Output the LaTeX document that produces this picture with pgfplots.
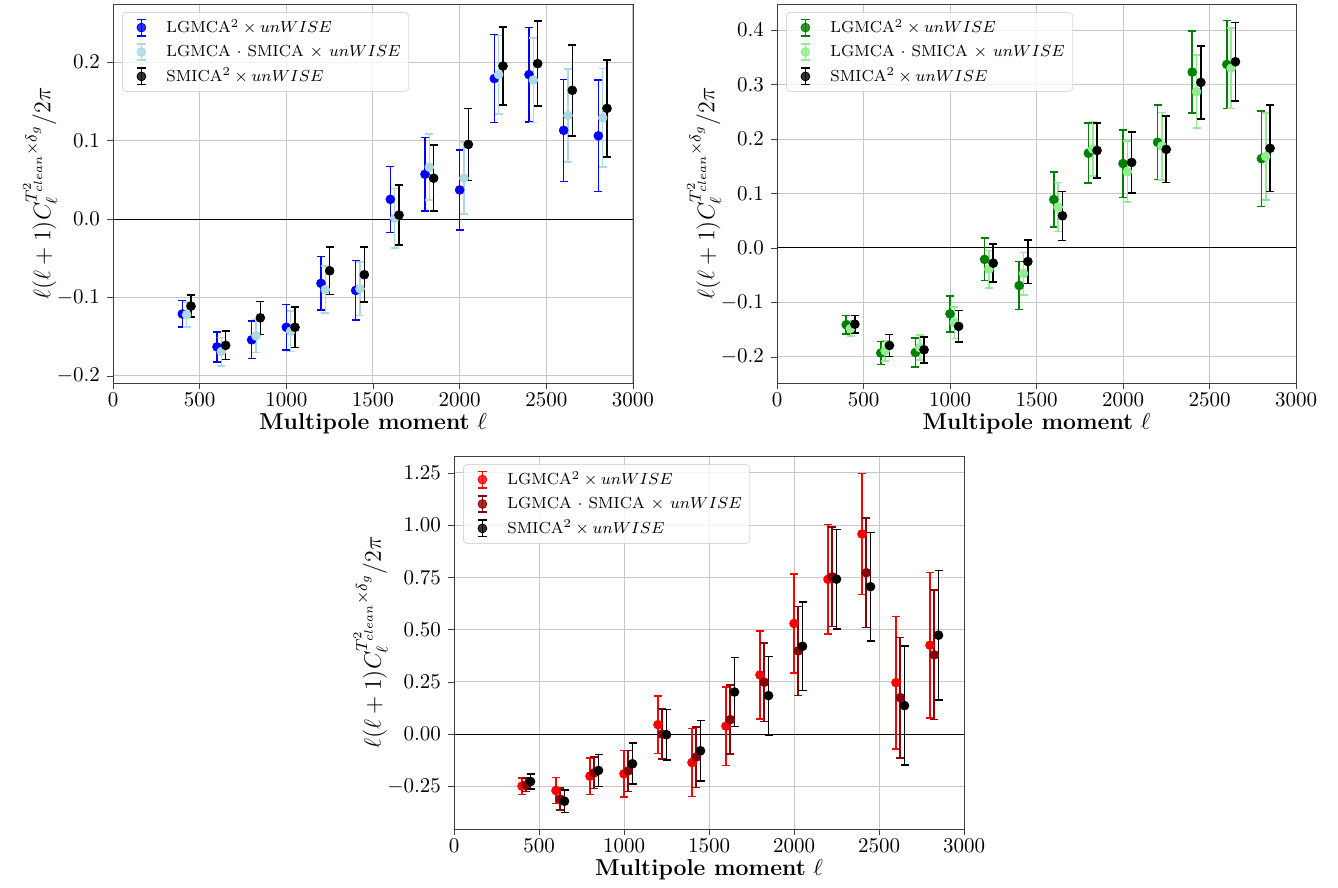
\RequirePackage{fix-cm}
\documentclass[border=0pt]{standalone}
\usepackage{amsmath}
\usepackage{pgfplots}
\usepackage{pgfplotstable}
\pgfplotsset{compat=1.18}

\definecolor{lblue}{HTML}{ADD8E6}
\definecolor{lgreen}{HTML}{90EE90}
\definecolor{dgreen}{HTML}{008000}
\definecolor{dred}{HTML}{8B0000}

\newcommand{\legA}{LGMCA$^2\times unWISE$}
\newcommand{\legB}{LGMCA\hspace{3pt}$\cdot$\hspace{3pt}SMICA\hspace{3pt}$\times$\hspace{3pt}$unWISE$}
\newcommand{\legC}{SMICA$^2\times unWISE$}

\pgfplotsset{
  panel/.style={
    scale only axis,
    xmin=0, xmax=3000, xtick={0,500,...,3000},
    grid=major, major grid style={black!22, line width=0.5pt},
    axis line style={black!75}, tick style={black!75},
    tick align=outside, tick pos=left, major tick length=3pt,
    scaled y ticks=false,
    xticklabel style={/pgf/number format/set thousands separator={}, yshift=1.5pt},
    ticklabel style={font=\fontsize{10.5}{12}\selectfont},
    xlabel={\textbf{Multipole moment} $\ell$},
    ylabel={$\ell(\ell+1)C_\ell^{T^2_{clean}\times\delta_g}/2\pi$},
    xlabel style={font=\fontsize{11.5}{13}\selectfont, yshift=3.5pt},
    ylabel style={font=\fontsize{12}{14}\selectfont, yshift=-7pt},
    legend cell align=left,
    legend style={at={(0,1)}, anchor=north west, xshift=4.5pt, yshift=-4pt,
      draw=black!15, rounded corners=2pt, fill=white, fill opacity=0.8,
      text opacity=1, font=\fontsize{8}{9.5}\selectfont,
      nodes={inner xsep=2pt, inner ysep=1pt},
      row sep=2.5pt, inner xsep=2pt, inner ysep=2.5pt},
  },
  eb/.style={
    only marks, mark=*, mark size=2.2pt, color=#1,
    mark options={fill=#1, draw=#1},
    legend image code/.code={
      \draw[#1, line width=0.8pt] (7.5pt,-4.1pt)--(7.5pt,4.1pt)
        (5.3pt,-4.1pt)--(9.7pt,-4.1pt) (5.3pt,4.1pt)--(9.7pt,4.1pt);
      \fill[#1] (7.5pt,0pt) circle (2.2pt);
      \path[draw=none, fill=none] (0pt,0pt) -- (18pt,0pt);
    },
    error bars/.cd, y dir=both, y explicit,
    error bar style={line width=0.8pt, #1},
    error mark options={rotate=90, #1, line width=0.8pt, mark size=2pt},
  },
}

% panel 1 (blue)
\pgfplotstableread{
x y e
400 -0.121 0.017
600 -0.163 0.019
800 -0.154 0.024
1000 -0.138 0.029
1200 -0.082 0.034
1400 -0.091 0.038
1600 0.025 0.042
1800 0.057 0.047
2000 0.037 0.051
2200 0.179 0.056
2400 0.184 0.060
2600 0.113 0.065
2800 0.106 0.071
}\blueA
\pgfplotstableread{
x y e
425 -0.122 0.016
625 -0.169 0.018
825 -0.149 0.021
1025 -0.143 0.026
1225 -0.090 0.030
1425 -0.089 0.034
1625 0.001 0.038
1825 0.066 0.042
2025 0.052 0.046
2225 0.184 0.050
2425 0.177 0.054
2625 0.132 0.059
2825 0.129 0.063
}\blueB
\pgfplotstableread{
x y e
450 -0.111 0.014
650 -0.161 0.018
850 -0.126 0.021
1050 -0.138 0.026
1250 -0.066 0.030
1450 -0.071 0.035
1650 0.005 0.038
1850 0.052 0.042
2050 0.095 0.046
2250 0.195 0.050
2450 0.198 0.054
2650 0.164 0.058
2850 0.141 0.062
}\blueC

% panel 2 (green)
\pgfplotstableread{
x y e
400 -0.141 0.017
600 -0.193 0.021
800 -0.192 0.027
1000 -0.121 0.033
1200 -0.021 0.039
1400 -0.069 0.044
1600 0.089 0.050
1800 0.174 0.055
2000 0.155 0.062
2200 0.194 0.068
2400 0.323 0.075
2600 0.337 0.081
2800 0.164 0.088
}\greenA
\pgfplotstableread{
x y e
425 -0.148 0.014
625 -0.189 0.019
825 -0.183 0.023
1025 -0.137 0.029
1225 -0.039 0.034
1425 -0.047 0.039
1625 0.075 0.045
1825 0.182 0.050
2025 0.140 0.056
2225 0.187 0.062
2425 0.287 0.067
2625 0.330 0.074
2825 0.168 0.080
}\greenB
\pgfplotstableread{
x y e
450 -0.140 0.016
650 -0.179 0.020
850 -0.187 0.024
1050 -0.144 0.029
1250 -0.028 0.035
1450 -0.025 0.040
1650 0.059 0.045
1850 0.179 0.050
2050 0.157 0.056
2250 0.181 0.061
2450 0.304 0.067
2650 0.342 0.072
2850 0.183 0.079
}\greenC

% panel 3 (red)
\pgfplotstableread{
x y e
400 -0.249 0.040
600 -0.270 0.062
800 -0.201 0.088
1000 -0.190 0.111
1200 0.045 0.137
1400 -0.136 0.162
1600 0.038 0.188
1800 0.283 0.210
2000 0.529 0.236
2200 0.740 0.262
2400 0.957 0.290
2600 0.246 0.317
2800 0.425 0.347
}\redA
\pgfplotstableread{
x y e
425 -0.243 0.032
625 -0.311 0.053
825 -0.185 0.076
1025 -0.176 0.098
1225 0.000 0.120
1425 -0.110 0.145
1625 0.069 0.165
1825 0.248 0.188
2025 0.398 0.213
2225 0.752 0.238
2425 0.772 0.262
2625 0.174 0.287
2825 0.379 0.310
}\redB
\pgfplotstableread{
x y e
450 -0.227 0.037
650 -0.321 0.054
850 -0.174 0.076
1050 -0.142 0.098
1250 -0.003 0.120
1450 -0.080 0.145
1650 0.201 0.165
1850 0.184 0.188
2050 0.420 0.211
2250 0.741 0.237
2450 0.705 0.260
2650 0.136 0.284
2850 0.473 0.310
}\redC

\begin{document}
\begin{tikzpicture}
\useasboundingbox (0pt,0pt) rectangle (669pt,-444pt);

\begin{axis}[panel, at={(56.5pt,-2pt)}, anchor=north west,
  width=260pt, height=189.5pt,
  ymin=-0.209, ymax=0.274, ytick={-0.2,-0.1,0,0.1,0.2},
  yticklabel style={/pgf/number format/.cd, fixed, fixed zerofill, precision=1}]
  \draw[black, line width=0.5pt] (axis cs:0,0) -- (axis cs:3000,0);
  \addplot[eb=blue] table[x=x, y=y, y error=e] {\blueA};
  \addplot[eb=lblue] table[x=x, y=y, y error=e] {\blueB};
  \addplot[eb=black] table[x=x, y=y, y error=e] {\blueC};
  \legend{\legA, \legB, \legC}
\end{axis}

\begin{axis}[panel, at={(388.5pt,-2pt)}, anchor=north west,
  width=259.5pt, height=189.5pt,
  ymin=-0.248, ymax=0.448, ytick={-0.2,-0.1,0,0.1,0.2,0.3,0.4},
  yticklabel style={/pgf/number format/.cd, fixed, fixed zerofill, precision=1}]
  \draw[black, line width=0.5pt] (axis cs:0,0) -- (axis cs:3000,0);
  \addplot[eb=dgreen] table[x=x, y=y, y error=e] {\greenA};
  \addplot[eb=lgreen] table[x=x, y=y, y error=e] {\greenB};
  \addplot[eb=black] table[x=x, y=y, y error=e] {\greenC};
  \legend{\legA, \legB, \legC}
\end{axis}

\begin{axis}[panel, at={(227pt,-228pt)}, anchor=north west,
  width=255pt, height=186.5pt,
  ymin=-0.454, ymax=1.33, ytick={-0.25,0,0.25,0.5,0.75,1,1.25},
  yticklabel style={/pgf/number format/.cd, fixed, fixed zerofill, precision=2}]
  \draw[black, line width=0.5pt] (axis cs:0,0) -- (axis cs:3000,0);
  \addplot[eb=red] table[x=x, y=y, y error=e] {\redA};
  \addplot[eb=dred] table[x=x, y=y, y error=e] {\redB};
  \addplot[eb=black] table[x=x, y=y, y error=e] {\redC};
  \legend{\legA, \legB, \legC}
\end{axis}
\end{tikzpicture}
\end{document}
